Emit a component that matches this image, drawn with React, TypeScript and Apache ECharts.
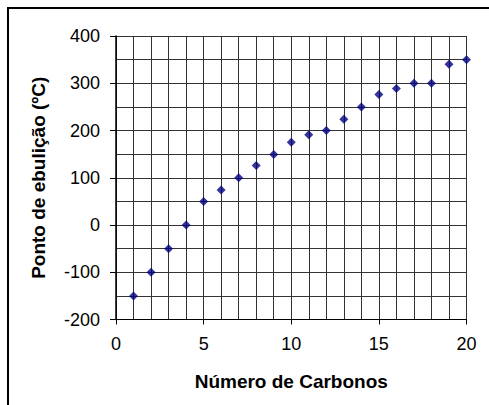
import React, { useEffect, useRef } from "react";
import * as echarts from "echarts";

const carbons = [1, 2, 3, 4, 5, 6, 7, 8, 9, 10, 11, 12, 13, 14, 15, 16, 17, 18, 19, 20];
const boilingPoints = [-150, -100, -50, 0, 50, 74, 100, 126, 149, 175, 191, 200, 224, 250, 276, 289, 300, 300, 340, 350];
const xTitle = "Número de Carbonos";
const yTitle = "Ponto de ebulição (ºC)";

export default function App() {
  const ref = useRef<HTMLDivElement>(null);
  useEffect(() => {
    if (!ref.current) return;
    const chart = echarts.init(ref.current, null, { renderer: "svg" });
    const gridColor = "#333333";
    const font = "Liberation Sans, Arial, sans-serif";
    chart.setOption({
      animation: false,
      backgroundColor: "#ffffff",
      grid: { left: 116, right: 22.5, top: 36, bottom: 85.5, containLabel: false },
      graphic: [
        {
          type: "rect",
          shape: { x: 8, y: 8, width: 520, height: 440 },
          style: { fill: "none", stroke: "#000", lineWidth: 2 },
          silent: true,
        },
      ],
      xAxis: {
        type: "value",
        min: 0,
        max: 20,
        interval: 5,
        name: xTitle,
        nameLocation: "middle",
        nameGap: 52,
        nameTextStyle: { fontFamily: font, fontSize: 19, fontWeight: "bold", color: "#000" },
        axisLine: { show: true, onZero: false, lineStyle: { color: "#000", width: 1 } },
        axisTick: { show: true, length: 5, inside: false, lineStyle: { color: "#000" } },
        axisLabel: { fontFamily: font, fontSize: 18, color: "#000", margin: 15 },
        splitLine: { show: true, lineStyle: { color: gridColor, width: 1 } },
        minorTick: { show: false, splitNumber: 5 },
        minorSplitLine: { show: true, lineStyle: { color: gridColor, width: 1 } },
      },
      yAxis: {
        type: "value",
        min: -200,
        max: 400,
        interval: 100,
        name: yTitle,
        nameLocation: "middle",
        nameGap: 68,
        nameTextStyle: { fontFamily: font, fontSize: 19, fontWeight: "bold", color: "#000" },
        axisLine: { show: true, onZero: false, lineStyle: { color: "#000", width: 1.5 } },
        axisTick: { show: true, length: 6, inside: false, lineStyle: { color: "#000" } },
        axisLabel: { fontFamily: font, fontSize: 18, color: "#000", margin: 16 },
        splitLine: { show: true, lineStyle: { color: gridColor, width: 1 } },
        minorTick: { show: false, splitNumber: 2 },
        minorSplitLine: { show: true, lineStyle: { color: gridColor, width: 1 } },
      },
      series: [
        {
          type: "scatter",
          data: carbons.map((c, i) => [c, boilingPoints[i]]),
          symbol: "diamond",
          symbolSize: 9,
          itemStyle: { color: "#000080" },
        },
      ],
    });
    return () => chart.dispose();
  }, []);
  return (
    <div
      ref={ref}
      style={{ position: "fixed", left: 0, top: 0, width: 489, height: 405 }}
    />
  );
}
